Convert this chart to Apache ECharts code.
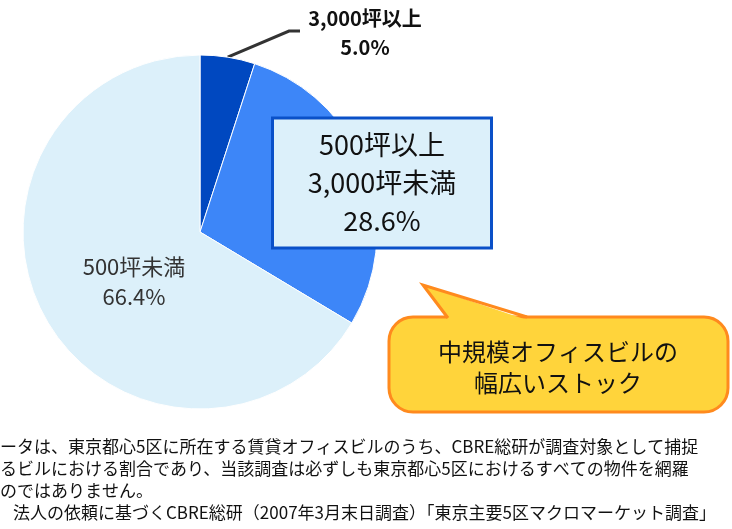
<!DOCTYPE html>
<html>
<head>
<meta charset="utf-8">
<script src="https://cdn.jsdelivr.net/npm/echarts@6/dist/echarts.min.js"></script>
<style>
  html, body { margin: 0; padding: 0; background: #fff; }
  #chart { width: 732px; height: 529px; }
</style>
</head>
<body>
<div id="chart"></div>
<script>
// 規模別ストック割合
var categories = ['3,000坪以上', '500坪以上\n3,000坪未満', '500坪未満'];
var shares = [5.0, 28.6, 66.4];
var sliceColors = ['#0048C0', '#3D86F8', '#DCF0FA'];

var calloutText = '中規模オフィスビルの\n幅広いストック';
var noteLines = [
  'ータは、東京都心5区に所在する賃貸オフィスビルのうち、CBRE総研が調査対象として捕捉',
  'るビルにおける割合であり、当該調査は必ずしも東京都心5区におけるすべての物件を網羅',
  'のではありません。',
  '法人の依頼に基づくCBRE総研（2007年3月末日調査）「東京主要5区マクロマーケット調査」'
];
var noteX = [0, 0, 0, 13];

var FONT = '"Noto Sans CJK JP", "Noto Sans", sans-serif';

var chart = echarts.init(document.getElementById('chart'));

var labelStyles = [
  { position: 'outside', fontSize: 20, fontWeight: 'bold', color: '#111', lineHeight: 29 },
  {
    position: 'inside', fontSize: 27, color: '#111', lineHeight: 38,
    backgroundColor: '#DCF0FA', borderColor: '#0A50C8', borderWidth: 3,
    width: 216, padding: [6, 0, 7, 0], align: 'center'
  },
  { position: 'inside', fontSize: 22, color: '#333', lineHeight: 30 }
];

var pieData = categories.map(function (name, i) {
  return {
    name: name,
    value: shares[i],
    itemStyle: { color: sliceColors[i] },
    label: labelStyles[i],
    labelLine: i === 0
      ? { show: true, lineStyle: { color: '#333', width: 3 } }
      : { show: false }
  };
});

var YELLOW = '#FFD43B', ORANGE = '#FF8A1E';

var option = {
  backgroundColor: '#fff',
  animation: false,
  series: [
    {
      type: 'pie',
      center: [200, 232],
      radius: 177,
      startAngle: 90,
      clockwise: true,
      avoidLabelOverlap: false,
      itemStyle: { borderColor: '#fff', borderWidth: 1 },
      label: {
        fontFamily: FONT,
        formatter: function (p) {
          return p.name + '\n' + p.value.toFixed(1) + '%';
        }
      },
      labelLayout: function (p) {
        if (p.dataIndex === 0) {
          var pts = p.labelLinePoints;
          var out = { x: 365, y: 33, align: 'center', verticalAlign: 'middle' };
          if (pts) out.labelLinePoints = [pts[0], [289, 31], [300, 31]];
          return out;
        }
        if (p.dataIndex === 1) {
          return { x: 382, y: 183, align: 'center', verticalAlign: 'middle' };
        }
        return { x: 134, y: 282, align: 'center', verticalAlign: 'middle' };
      },
      data: pieData
    }
  ],
  graphic: [
    // 吹き出し
    {
      type: 'rect',
      shape: { x: 389, y: 317, width: 339, height: 95, r: 24 },
      style: { fill: YELLOW, stroke: ORANGE, lineWidth: 3 },
      z: 10
    },
    {
      type: 'polygon',
      shape: { points: [[448, 320], [423, 285], [527, 320]] },
      style: { fill: YELLOW },
      z: 11
    },
    {
      type: 'polyline',
      shape: { points: [[448, 318], [423, 285], [527, 317]] },
      style: { stroke: ORANGE, lineWidth: 3, fill: null },
      z: 12
    },
    {
      type: 'text',
      x: 558,
      y: 367,
      style: {
        text: calloutText,
        font: '24px ' + FONT,
        fill: '#111',
        align: 'center',
        verticalAlign: 'middle',
        lineHeight: 31
      },
      z: 13
    }
  ].concat(noteLines.map(function (t, i) {
    return {
      type: 'text',
      x: noteX[i],
      y: 447 + i * 21.7,
      style: {
        text: t,
        font: '17px ' + FONT,
        fill: '#111',
        verticalAlign: 'middle'
      }
    };
  }))
};

chart.setOption(option);
</script>
</body>
</html>
